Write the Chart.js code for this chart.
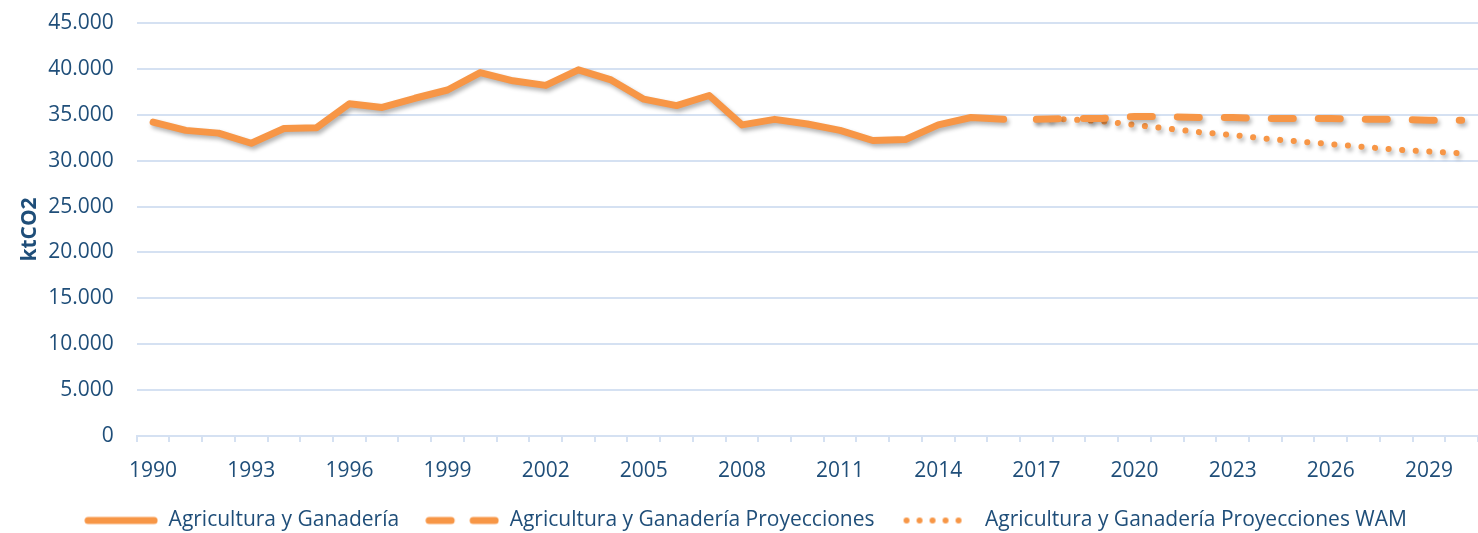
<!DOCTYPE html>
<html>
<head>
<meta charset="utf-8">
<script src="https://cdn.jsdelivr.net/npm/chart.js@4.4.1/dist/chart.umd.min.js"></script>
<style>
  html, body { margin: 0; padding: 0; background: #fff; }
  #wrap { width: 1478px; height: 533px; }
</style>
</head>
<body>
<div id="wrap"><canvas id="emisionesChart" width="1478" height="533"></canvas></div>
<script>
// Datos (ktCO2)
const anios = [];
for (let a = 1990; a <= 2030; a++) anios.push(String(a));

const historico = [34200, 33300, 33000, 31900, 33500, 33600, 36200, 35800, 36800, 37700,
                   39600, 38700, 38200, 39900, 38800, 36700, 36000, 37100, 33900, 34500,
                   34000, 33300, 32200, 32300, 33900, 34700, 34500];
const proyecciones = [34500, 34600, 34600, 34800, 34800, 34700, 34700, 34600, 34600, 34600,
                      34500, 34500, 34400, 34400];
const proyeccionesWAM = [34500, 34500, 34300, 33900, 33500, 33100, 32800, 32400, 32100, 31800,
                         31500, 31200, 31000, 30800];
const ticksY = [0, 5000, 10000, 15000, 20000, 25000, 30000, 35000, 40000, 45000];

const naranja = '#F79646';
const azulTexto = '#1F4E79';
const azulRejilla = '#D5E1F2';
const fuente = 'Open Sans';

// rellenar con null donde la serie no existe
const serieHist = anios.map((a, i) => i < historico.length ? historico[i] : null);
const inicioProy = anios.length - proyecciones.length;
const serieProy = anios.map((a, i) => i >= inicioProy ? proyecciones[i - inicioProy] : null);
const serieWAM = anios.map((a, i) => i >= inicioProy ? proyeccionesWAM[i - inicioProy] : null);

// muestras de linea para la leyenda
function muestra(tipo) {
  const c = document.createElement('canvas');
  c.width = 74; c.height = 12;
  const g = c.getContext('2d');
  g.strokeStyle = naranja;
  g.lineCap = 'round';
  if (tipo === 'solida') {
    g.lineWidth = 7;
    g.beginPath(); g.moveTo(4, 6); g.lineTo(70, 6); g.stroke();
  } else if (tipo === 'guion') {
    g.lineWidth = 7;
    g.beginPath(); g.moveTo(4, 6); g.lineTo(26, 6); g.stroke();
    g.beginPath(); g.moveTo(48, 6); g.lineTo(70, 6); g.stroke();
  } else {
    g.fillStyle = naranja;
    for (let k = 0; k < 5; k++) {
      g.beginPath(); g.arc(6 + k * 13, 6, 3, 0, Math.PI * 2); g.fill();
    }
  }
  return c;
}
const muestras = [muestra('solida'), muestra('guion'), muestra('puntos')];

// sombra suave bajo las lineas
const sombra = {
  id: 'sombra',
  beforeDatasetDraw(chart) {
    const ctx = chart.ctx;
    ctx.save();
    ctx.shadowColor = 'rgba(0,0,0,0.30)';
    ctx.shadowBlur = 4;
    ctx.shadowOffsetX = 2;
    ctx.shadowOffsetY = 3;
  },
  afterDatasetDraw(chart) {
    chart.ctx.restore();
  }
};

const ctx = document.getElementById('emisionesChart').getContext('2d');
const grafico = new Chart(ctx, {
  type: 'line',
  data: {
    labels: anios,
    datasets: [{
      label: 'Agricultura y Ganadería',
      data: serieHist,
      borderColor: naranja,
      borderWidth: 7,
      borderCapStyle: 'round',
      borderJoinStyle: 'round',
      pointRadius: 0,
      tension: 0
    }, {
      label: 'Agricultura y Ganadería Proyecciones',
      data: serieProy,
      borderColor: naranja,
      borderWidth: 7,
      borderDash: [22, 25],
      borderCapStyle: 'round',
      borderJoinStyle: 'round',
      pointRadius: 0,
      tension: 0
    }, {
      label: 'Agricultura y Ganadería Proyecciones WAM',
      data: serieWAM,
      borderColor: naranja,
      borderWidth: 6,
      borderDash: [0.1, 13.5],
      borderCapStyle: 'round',
      borderJoinStyle: 'round',
      pointRadius: 0,
      tension: 0
    }]
  },
  options: {
    responsive: false,
    animation: false,
    layout: { padding: { top: 23, right: 0, left: 13, bottom: -8 } },
    scales: {
      x: {
        offset: true,
        afterFit: axis => { axis.height = 48; },
        grid: {
          offset: true,
          drawOnChartArea: false,
          color: azulRejilla,
          tickLength: 6,
          lineWidth: 2
        },
        border: { color: azulRejilla, width: 2 },
        ticks: {
          autoSkip: false,
          maxRotation: 0,
          color: azulTexto,
          font: { family: fuente, size: 21 },
          padding: 16,
          callback: function(v, i) { return i % 3 === 0 ? this.getLabelForValue(v) : ''; }
        }
      },
      y: {
        min: 0,
        max: 45000,
        afterBuildTicks: axis => { axis.ticks = ticksY.map(v => ({ value: v })); },
        grid: { color: azulRejilla, lineWidth: 2, drawTicks: true, tickLength: 19, tickColor: 'rgba(0,0,0,0)' },
        border: { display: false },
        ticks: {
          color: azulTexto,
          font: { family: fuente, size: 21 },
          padding: 4,
          callback: v => v.toLocaleString('de-DE')
        },
        title: {
          display: true,
          text: 'ktCO2',
          color: azulTexto,
          font: { family: fuente, size: 21, weight: 'bold' },
          padding: { top: 4, bottom: 2 }
        }
      }
    },
    plugins: {
      legend: {
        position: 'bottom',
        labels: {
          color: azulTexto,
          font: { family: fuente, size: 21 },
          padding: 26,
          usePointStyle: true,
          pointStyleWidth: 74,
          generateLabels: chart => chart.data.datasets.map((ds, i) => ({
            text: ds.label,
            pointStyle: muestras[i],
            fontColor: azulTexto,
            datasetIndex: i,
            hidden: false,
            lineWidth: 0
          }))
        }
      },
      tooltip: { enabled: false }
    }
  },
  plugins: [sombra]
});
</script>
</body>
</html>
